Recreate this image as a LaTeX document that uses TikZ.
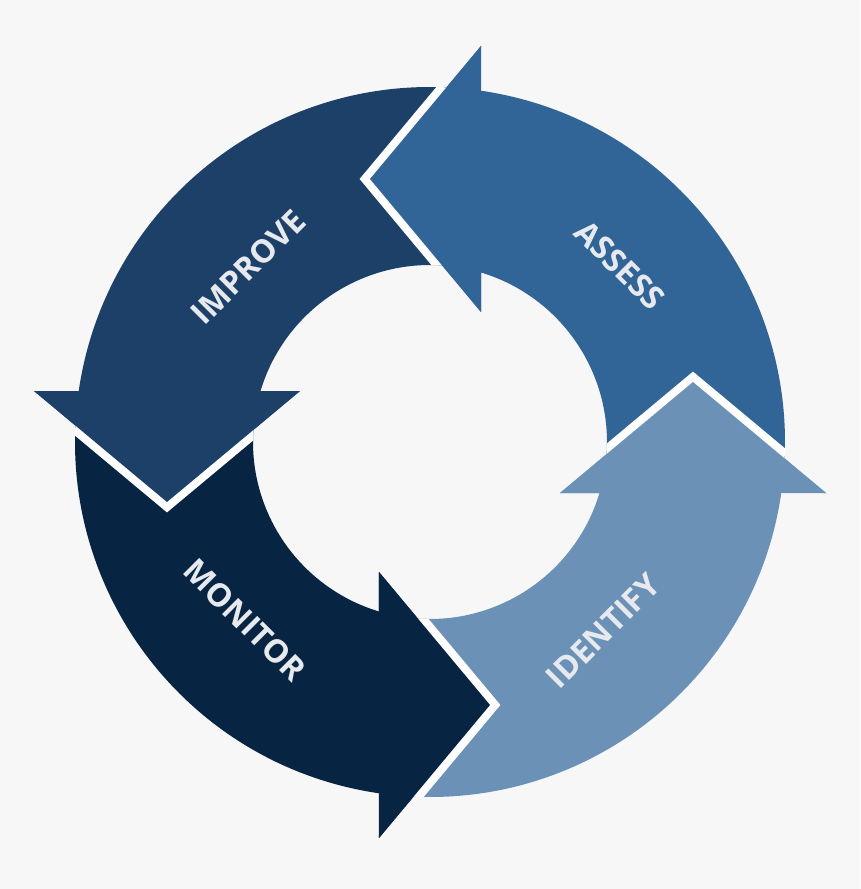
\documentclass[tikz,border=0pt]{standalone}
\usepackage{fontspec}
\setmainfont{Open Sans}
\definecolor{cIdent}{HTML}{6B91B6}
\definecolor{cAssess}{HTML}{316497}
\definecolor{cImprove}{HTML}{1D4068}
\definecolor{cMonitor}{HTML}{072543}
\definecolor{bg}{HTML}{F7F7F7}
\definecolor{txt}{HTML}{E6EAEE}
\tikzset{
  gap/.style={draw=white,line width=16pt,line join=miter},
  lbl/.style={text=txt,font=\fontsize{32}{32}\selectfont\bfseries,inner sep=0pt}
}
\newcommand{\arrowshape}{(-14.7pt,-176.4pt) -- (55pt,-263pt) -- (-18.6pt,-354.5pt)
  arc[start angle=267,end angle=351.74,radius=355pt] -- (396pt,-51pt) -- (263pt,60pt)
  -- (130pt,-51pt) -- (169.5pt,-51pt) arc[start angle=-16.75,end angle=-94.8,radius=177pt] -- cycle}
\begin{document}
\begin{tikzpicture}[x=1pt,y=1pt]
\fill[bg] (-430,-447) rectangle (430,442);
\useasboundingbox (-430,-447) rectangle (430,442);
\fill[cIdent] \arrowshape;
\begin{scope}[rotate=90]\fill[cAssess] \arrowshape;\end{scope}
\begin{scope}[rotate=180]\fill[cImprove] \arrowshape;\end{scope}
\begin{scope}[rotate=270]\fill[cMonitor] \arrowshape;\end{scope}
\begin{scope}[even odd rule]
\clip (0,0) circle (355) (0,0) circle (177);
\foreach \r in {0,90,180,270}{
  \begin{scope}[rotate=\r]\draw[gap] (130pt,-51pt) -- (263pt,60pt) -- (396pt,-51pt);\end{scope}
}
\end{scope}
\foreach \r/\c in {0/cIdent,90/cAssess,180/cImprove,270/cMonitor}{
  \begin{scope}[rotate=\r]\fill[\c] (130pt,-51pt) -- (263pt,60pt) -- (396pt,-51pt) -- cycle;\end{scope}
}
\node[lbl,rotate=45] (identify) at (173,-189) {IDENTIFY};
\node[lbl,rotate=-45] (assess) at (190,177) {ASSESS};
\node[lbl,rotate=45] (improve) at (-182,175) {IMPROVE};
\node[lbl,rotate=-45] (monitor) at (-185,-178) {MONITOR};
\end{tikzpicture}
\end{document}
